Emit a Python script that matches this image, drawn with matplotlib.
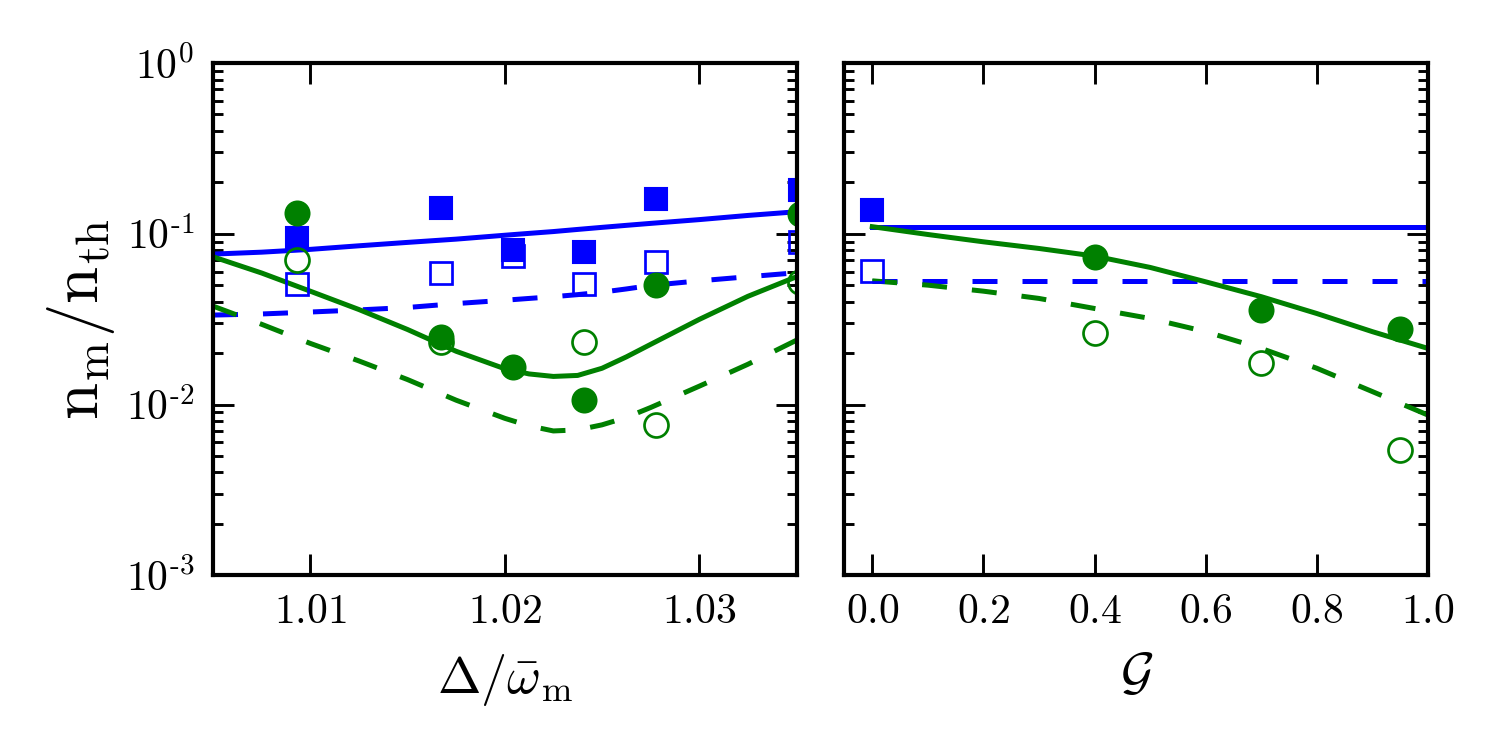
import numpy as np
import matplotlib
matplotlib.use("Agg")
import matplotlib.pyplot as plt
from matplotlib.ticker import FixedLocator, FixedFormatter, LogLocator, NullFormatter

plt.rcParams["mathtext.fontset"] = "cm"
plt.rcParams["font.family"] = "serif"
plt.rcParams["font.serif"] = ["cmr10", "DejaVu Serif"]
plt.rcParams["axes.unicode_minus"] = False

# --- left panel: detuning scan ---
det_pts = [1.0093, 1.0167, 1.0204, 1.0241, 1.0278, 1.0352]
sq_filled_L = [0.094, 0.141, 0.080, 0.078, 0.159, 0.180]
sq_open_L = [0.051, 0.0586, 0.0743, 0.0505, 0.068, 0.0897]
circ_filled_L = [0.133, 0.0249, 0.0166, 0.0106, 0.050, 0.131]
circ_open_L = [0.070, 0.0233, np.nan, 0.0231, 0.00757, 0.0523]

det_line = [1.005, 1.0075, 1.0100, 1.0125, 1.0150, 1.0175, 1.0200, 1.02125,
            1.0225, 1.02375, 1.0250, 1.02625, 1.0275, 1.0300, 1.0325, 1.035]
blue_solid_L = [0.076, 0.078, 0.081, 0.085, 0.089, 0.093, 0.098, 0.1005,
                0.103, 0.106, 0.109, 0.112, 0.115, 0.121, 0.128, 0.1345]
blue_dash_L = [0.0334, 0.0339, 0.0348, 0.0358, 0.0370, 0.0390, 0.0408, 0.0418,
               0.0428, 0.0440, 0.0455, 0.0475, 0.0498, 0.0530, 0.0560, 0.0591]
green_solid_L = [0.0733, 0.0589, 0.0461, 0.0360, 0.0275, 0.0205, 0.0162, 0.0151,
                 0.0146, 0.0148, 0.0163, 0.0190, 0.0225, 0.0315, 0.0430, 0.056]
green_dash_L = [0.0377, 0.0295, 0.0228, 0.0180, 0.0140, 0.0106, 0.0083, 0.0075,
                0.0070, 0.0071, 0.0076, 0.0084, 0.0096, 0.0128, 0.0172, 0.0238]

# --- right panel: G scan ---
g_pts = [0.0, 0.4, 0.7, 0.95]
sq_filled_R = [0.138, np.nan, np.nan, np.nan]
sq_open_R = [0.0604, np.nan, np.nan, np.nan]
circ_filled_R = [np.nan, 0.0727, 0.036, 0.0275]
circ_open_R = [np.nan, 0.0261, 0.0174, 0.0054]

g_line = [0.0, 0.1, 0.2, 0.3, 0.4, 0.5, 0.6, 0.7, 0.8, 0.9, 1.0]
blue_solid_R = [0.110] * len(g_line)
blue_dash_R = [0.053] * len(g_line)
green_solid_R = [0.110, 0.099, 0.0897, 0.082, 0.074, 0.0635, 0.0523, 0.0428,
                 0.0341, 0.0267, 0.0213]
green_dash_R = [0.053, 0.050, 0.0461, 0.0418, 0.0365, 0.0319, 0.0267, 0.0213,
                0.0163, 0.0119, 0.00867]

ytick_vals = [1e-3, 1e-2, 1e-1, 1e0]
ytick_labels = [r"$10^{\text{-3}}$", r"$10^{\text{-2}}$", r"$10^{\text{-1}}$", r"$10^{0}$"]

BLUE = "#0000ff"
GREEN = "#008000"
LW = 2.4
DASH = (0, (5, 5))


def style_axis(ax):
    ax.set_yscale("log")
    ax.set_ylim(1e-3, 1)
    ax.yaxis.set_major_locator(FixedLocator(ytick_vals))
    ax.yaxis.set_minor_locator(LogLocator(base=10, subs=np.arange(2, 10)))
    ax.yaxis.set_minor_formatter(NullFormatter())
    ax.tick_params(which="both", direction="in", top=True, right=True, width=1.4)
    ax.tick_params(which="major", length=10, labelsize=20, pad=9)
    ax.tick_params(which="minor", length=5)
    for s in ax.spines.values():
        s.set_linewidth(2.0)


def draw(ax, xl, bs, bd, gs, gd, xp, sf, so, cf, co):
    ax.plot(xl, bs, color=BLUE, lw=LW)
    ax.plot(xl, bd, color=BLUE, lw=LW, linestyle=DASH)
    ax.plot(xl, gs, color=GREEN, lw=LW)
    ax.plot(xl, gd, color=GREEN, lw=LW, linestyle=DASH)
    ax.plot(xp, sf, "s", color=BLUE, ms=11, mec=BLUE)
    ax.plot(xp, so, "s", color=BLUE, ms=11, mfc="none", mew=1.3)
    ax.plot(xp, cf, "o", color=GREEN, ms=11.5, mec=GREEN)
    ax.plot(xp, co, "o", color=GREEN, ms=11.5, mfc="none", mew=1.3)


fig = plt.figure(figsize=(10, 5), dpi=150)
axL = fig.add_axes([0.142, 0.233, 0.389, 0.683])
axR = fig.add_axes([0.563, 0.233, 0.389, 0.683])

draw(axL, det_line, blue_solid_L, blue_dash_L, green_solid_L, green_dash_L,
     det_pts, sq_filled_L, sq_open_L, circ_filled_L, circ_open_L)
style_axis(axL)
axL.set_xlim(1.005, 1.035)
axL.set_xticks([1.01, 1.02, 1.03])
axL.set_xticklabels([r"$1.01$", r"$1.02$", r"$1.03$"])
axL.yaxis.set_major_formatter(FixedFormatter(ytick_labels))
axL.set_xlabel(r"$\Delta/\bar{\omega}_\mathrm{m}$", fontsize=25, labelpad=10)
axL.set_ylabel(r"$\mathrm{n}_\mathrm{m}/\mathrm{n}_\mathrm{th}$", fontsize=32, labelpad=4)

draw(axR, g_line, blue_solid_R, blue_dash_R, green_solid_R, green_dash_R,
     g_pts, sq_filled_R, sq_open_R, circ_filled_R, circ_open_R)
style_axis(axR)
axR.set_xlim(-0.05, 1.0)
gt = [0.0, 0.2, 0.4, 0.6, 0.8, 1.0]
axR.set_xticks(gt)
axR.set_xticklabels([r"$%.1f$" % v for v in gt])
axR.yaxis.set_major_formatter(NullFormatter())
axR.set_xlabel(r"$\mathcal{G}$", fontsize=25, labelpad=10)

fig.savefig("out.png", dpi=150)
